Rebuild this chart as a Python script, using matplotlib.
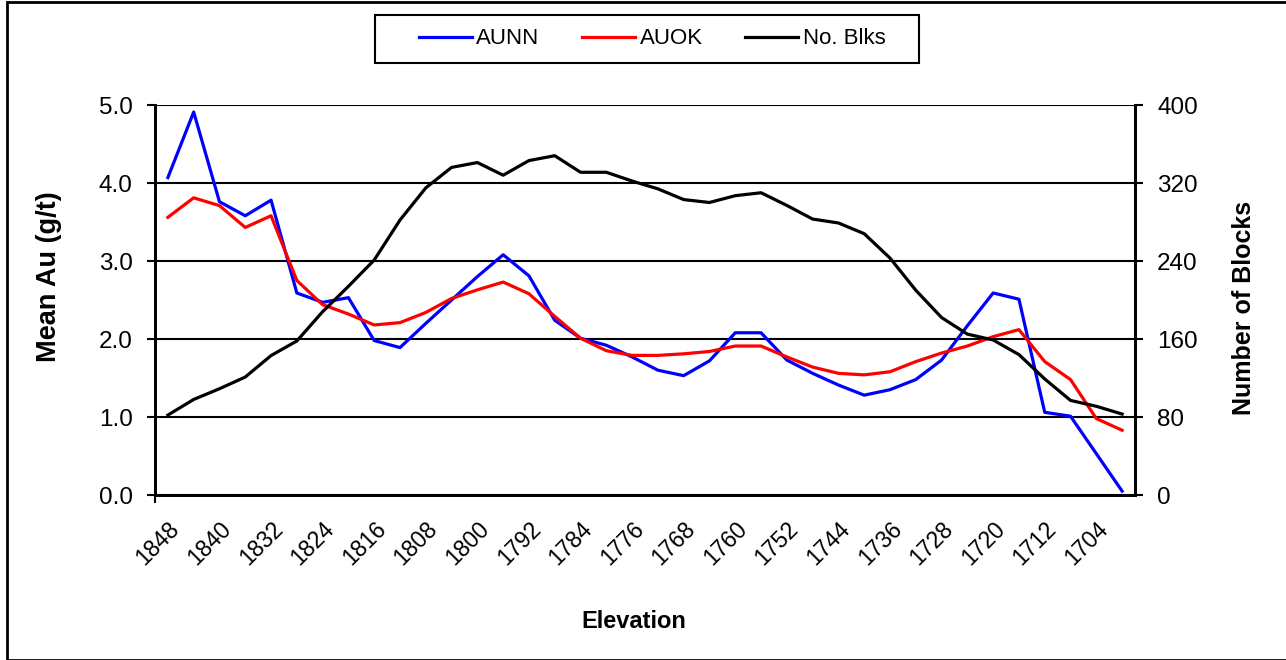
import matplotlib.pyplot as plt
from matplotlib.patches import Rectangle

plt.rcParams['font.family'] = ['Liberation Sans', 'DejaVu Sans']

elevation = list(range(1848, 1699, -4))
aunn = [4.07, 4.91, 3.76, 3.58, 3.78, 2.59, 2.47, 2.53, 1.98, 1.89,
        2.20, 2.50, 2.80, 3.08, 2.81, 2.24, 2.01, 1.92, 1.77, 1.60,
        1.53, 1.72, 2.08, 2.08, 1.73, 1.56, 1.41, 1.28, 1.35, 1.48,
        1.73, 2.17, 2.59, 2.51, 1.06, 1.01, 0.53, 0.05]
auok = [3.56, 3.81, 3.71, 3.43, 3.58, 2.75, 2.44, 2.32, 2.18, 2.21,
        2.34, 2.52, 2.63, 2.73, 2.58, 2.29, 2.01, 1.85, 1.79, 1.79,
        1.81, 1.84, 1.91, 1.91, 1.77, 1.64, 1.56, 1.54, 1.58, 1.71,
        1.82, 1.91, 2.03, 2.12, 1.71, 1.48, 0.98, 0.83]
blocks = [82, 98, 109, 121, 143, 158, 188, 214, 241, 282,
          315, 336, 341, 328, 343, 348, 331, 331, 322, 314,
          303, 300, 307, 310, 297, 283, 279, 268, 243, 210,
          182, 165, 159, 144, 119, 97, 91, 83]

x = list(range(len(elevation)))

W, H = 1286, 660
fig = plt.figure(figsize=(W/100, H/100), dpi=100)
ax = fig.add_axes([155/W, 1-495/H, 980/W, 390/H])
ax2 = ax.twinx()

ax.set_ylim(0, 5)
ax.set_yticks([0, 1, 2, 3, 4, 5])
ax.set_yticklabels(["%.1f" % v for v in [0, 1, 2, 3, 4, 5]])
ax.yaxis.grid(True, color='black', lw=1.5)
ax.set_axisbelow(True)

l1, = ax.plot(x, aunn, color='#0000ff', lw=2.3, label='AUNN')
l2, = ax.plot(x, auok, color='#ff0000', lw=2.3, label='AUOK')
l3, = ax2.plot(x, blocks, color='black', lw=2.3, label='No. Blks')

ax2.set_ylim(0, 400)
ax2.set_yticks([0, 80, 160, 240, 320, 400])

ax.set_xlim(-0.5, len(x) - 0.5)
ax.set_xticks(x[::2])
ax.set_xticklabels([str(e) for e in elevation[::2]], rotation=45, ha='right',
                   rotation_mode='anchor', fontsize=16.5)
ax.set_xticks([-0.5], minor=True)
ax.tick_params(axis='x', which='major', length=0, pad=16)
ax.tick_params(axis='x', which='minor', length=6, width=1.5, direction='out')
ax.tick_params(axis='y', labelsize=17.5, direction='out', length=6, width=1.5, pad=10)
ax2.tick_params(axis='y', labelsize=17.5, direction='out', length=6, width=1.5, pad=10)

for a in (ax, ax2):
    a.spines['top'].set_visible(False)
    for s in ('left', 'right', 'bottom'):
        a.spines[s].set_linewidth(2)
        a.spines[s].set_color('black')

ax.set_ylabel('Mean Au (g/t)', fontsize=19.5, fontweight='bold')
ax.yaxis.set_label_coords((62-155)/980, 0.56)
ax2.set_ylabel('Number of Blocks', fontsize=18, fontweight='bold')
ax2.yaxis.set_label_coords((1232-155)/980, 0.48)
fig.text(634/W, 1-622/H, 'Elevation', fontsize=17, fontweight='bold',
         ha='center', va='center')

# legend with a separately drawn box
fig.legend(handles=[l1, l2, l3], loc='center', ncol=3,
           bbox_to_anchor=(652/W, 1-39/H), fontsize=16, frameon=False,
           handlelength=2.4, handletextpad=0.2, columnspacing=1.9)
fig.patches.append(Rectangle((375/W, 1-63/H), 544/W, 48/H, transform=fig.transFigure,
                             fill=False, edgecolor='black', lw=1.5))

fig.patches.append(Rectangle((7/W, 0), 1, 1-2/H, transform=fig.transFigure,
                             fill=False, edgecolor='black', lw=2))

fig.savefig('out.png', dpi=100)
